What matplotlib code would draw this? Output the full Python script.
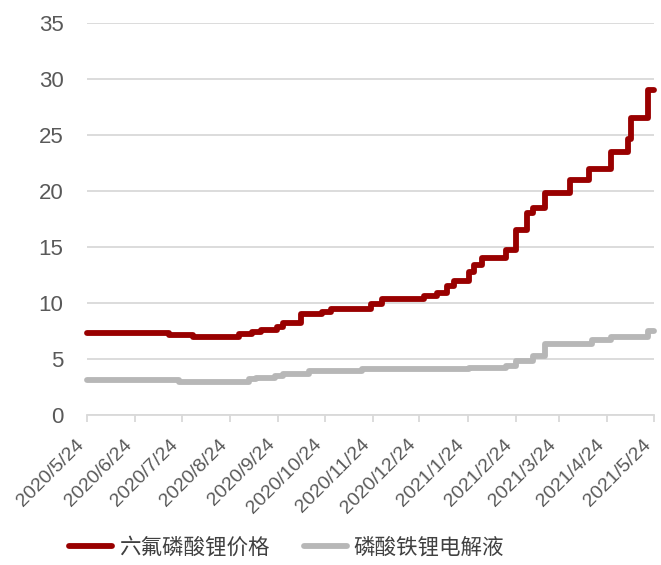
import pandas as pd
import matplotlib
matplotlib.use("Agg")
import matplotlib.pyplot as plt

plt.rcParams['font.family'] = ['Liberation Sans', 'Noto Sans CJK SC', 'DejaVu Sans']

# 六氟磷酸锂价格 (step change points)
lipf6_dates = ["2020-05-24", "2020-07-16", "2020-07-31", "2020-08-30", "2020-09-07",
               "2020-09-13", "2020-09-23", "2020-09-27", "2020-10-09", "2020-10-22",
               "2020-10-28", "2020-11-23", "2020-11-30", "2020-12-27", "2021-01-04",
               "2021-01-11", "2021-01-15", "2021-01-25", "2021-01-28", "2021-02-02",
               "2021-02-18", "2021-02-24", "2021-03-03", "2021-03-07", "2021-03-15",
               "2021-03-31", "2021-04-12", "2021-04-26", "2021-05-07", "2021-05-09",
               "2021-05-20", "2021-05-24"]
lipf6_vals = [7.3, 7.1, 6.95, 7.25, 7.4,
              7.6, 7.9, 8.2, 9.0, 9.2,
              9.5, 9.9, 10.4, 10.65, 10.9,
              11.5, 12.0, 12.8, 13.4, 14.0,
              14.7, 16.5, 18.0, 18.5, 19.8,
              21.0, 22.0, 23.5, 24.6, 26.5,
              29.0, 29.0]

# 磷酸铁锂电解液
lfp_dates = ["2020-05-24", "2020-07-22", "2020-09-05", "2020-09-10", "2020-09-22",
             "2020-09-27", "2020-10-14", "2020-11-17", "2021-01-25", "2021-02-18",
             "2021-02-24", "2021-03-07", "2021-03-15", "2021-04-14", "2021-04-26",
             "2021-05-20", "2021-05-24"]
lfp_vals = [3.1, 2.95, 3.2, 3.3, 3.5,
            3.7, 3.95, 4.1, 4.2, 4.4,
            4.85, 5.3, 6.3, 6.7, 7.0,
            7.5, 7.5]

tick_dates = pd.date_range("2020-05-01", "2021-05-01", freq="MS") + pd.Timedelta(days=23)
tick_labels = [f"{d.year}/{d.month}/{d.day}" for d in tick_dates]

fig = plt.figure(figsize=(6.61, 5.65), dpi=100)
ax = fig.add_axes([87 / 661, 1 - 415 / 565, (654 - 87) / 661, (415 - 23) / 565])

l1, = ax.plot(pd.to_datetime(lipf6_dates), lipf6_vals, drawstyle="steps-post",
              color="#990000", linewidth=4.2, solid_capstyle="round", clip_on=False)
l2, = ax.plot(pd.to_datetime(lfp_dates), lfp_vals, drawstyle="steps-post",
              color="#B7B7B7", linewidth=4.2, solid_capstyle="round", clip_on=False)

ax.set_ylim(0, 35)
ax.set_yticks(range(0, 36, 5))
ax.set_xlim(pd.Timestamp("2020-05-24"), pd.Timestamp("2021-05-24"))
ax.set_xticks(tick_dates)
ax.set_xticklabels(tick_labels, rotation=45, ha="right", rotation_mode="default")

ax.grid(axis="y", color="#D9D9D9", linewidth=1.3)
ax.set_axisbelow(True)
for s in ["top", "right", "left"]:
    ax.spines[s].set_visible(False)
ax.spines["bottom"].set_color("#D9D9D9")
ax.spines["bottom"].set_linewidth(1.3)
ax.tick_params(axis="y", length=0, labelsize=16, labelcolor="#595959", pad=17)
ax.tick_params(axis="x", length=5, color="#D9D9D9", width=1.3,
               labelsize=14, labelcolor="#595959", pad=10)

fig.legend([l1, l2], ["六氟磷酸锂价格", "磷酸铁锂电解液"], loc="center left",
           bbox_to_anchor=(50 / 661, 1 - 548 / 565), ncol=2, frameon=False,
           fontsize=15.5, handlelength=2.0, handletextpad=0.3, columnspacing=1.6,
           labelcolor="#404040")

fig.savefig("out.png", dpi=100)
